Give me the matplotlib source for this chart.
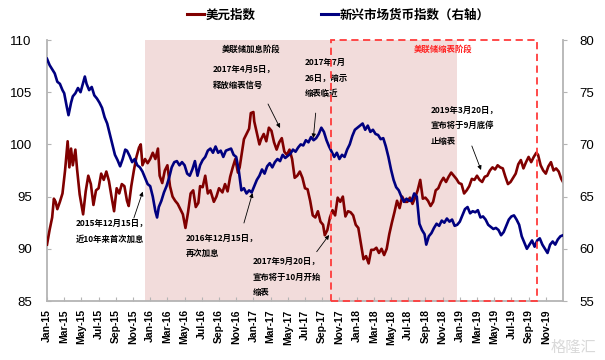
import matplotlib
matplotlib.use("Agg")
import matplotlib.pyplot as plt
from matplotlib.patches import Rectangle
from matplotlib.lines import Line2D
import matplotlib.transforms as mtransforms

plt.rcParams['font.family'] = ['Liberation Sans', 'DejaVu Sans']
CJK = ['Noto Sans CJK SC', 'DejaVu Sans']

# ---------------- data (x = months since Jan 2015) ----------------
usd_t = [0.0, 0.3, 0.6, 0.8, 1.0, 1.2, 1.5, 1.8, 2.1, 2.4, 2.6, 2.8, 3.0, 3.3, 3.5, 3.8,
         4.2, 4.5, 4.8, 5.1, 5.4, 5.7, 6.0, 6.3, 6.6, 6.9, 7.2, 7.5, 7.8, 8.1, 8.4, 8.7,
         9.0, 9.3, 9.5, 9.8, 10.1, 10.4, 10.7, 10.9, 11.1, 11.4, 11.7, 12.0, 12.3, 12.6,
         12.9, 13.1, 13.4, 13.7, 14.0, 14.3, 14.6, 14.9, 15.2, 15.5, 15.8, 16.1, 16.4,
         16.7, 17.0, 17.3, 17.6, 17.8, 18.1, 18.4, 18.7, 19.0, 19.4, 19.7, 20.0, 20.4,
         20.7, 21.0, 21.3, 21.6, 21.9, 22.2, 22.4, 22.6, 22.9, 23.2, 23.5, 23.7, 24.0,
         24.1, 24.4, 24.7, 24.9, 25.2, 25.5, 25.8, 26.1, 26.4, 26.7, 27.0, 27.3, 27.6,
         27.9, 28.2, 28.5, 28.8, 29.1, 29.4, 29.7, 30.0, 30.3, 30.6, 30.9, 31.2, 31.5,
         31.8, 32.1, 32.3, 32.6, 32.9, 33.2, 33.5, 33.8, 34.1, 34.4, 34.7, 35.0, 35.3,
         35.6, 35.9, 36.2, 36.5, 36.8, 37.1, 37.4, 37.7, 38.0, 38.3, 38.6, 38.9, 39.2,
         39.5, 39.8, 40.1, 40.4, 40.7, 41.0, 41.3, 41.6, 41.9, 42.2, 42.5, 42.8, 43.1,
         43.4, 43.7, 44.0, 44.3, 44.6, 44.9, 45.2, 45.5, 45.8, 46.1, 46.4, 46.7, 47.0,
         47.3, 47.6, 47.9, 48.2, 48.5, 48.8, 49.1, 49.4, 49.7, 50.0, 50.3, 50.6, 50.9,
         51.2, 51.5, 51.8, 52.1, 52.4, 52.7, 53.0, 53.3, 53.6, 53.9, 54.2, 54.5, 54.8,
         55.1, 55.4, 55.7, 56.0, 56.3, 56.6, 56.9, 57.1, 57.4, 57.7, 58.0, 58.3, 58.6,
         58.9, 59.2, 59.5, 59.8, 60.0]
usd_v = [90.4, 91.8, 93.0, 94.8, 94.5, 93.8, 94.5, 95.3, 97.5, 100.3, 97.8, 99.6, 98.0, 99.5, 97.6, 95.2,
         93.3, 95.5, 97.0, 96.2, 94.2, 95.6, 95.8, 97.2, 96.6, 97.4, 96.5, 95.0, 93.6, 95.8, 95.3, 96.2,
         96.0, 94.6, 94.1, 96.0, 97.5, 98.8, 99.7, 100.0, 98.0, 98.6, 98.2, 98.6, 99.2, 98.6,
         99.6, 97.0, 96.3, 97.5, 98.0, 96.0, 95.0, 94.6, 94.3, 93.8, 93.3, 92.0, 93.5,
         95.3, 95.6, 94.0, 94.4, 96.0, 95.9, 97.0, 95.3, 95.6, 94.5, 95.0, 95.8, 95.4,
         96.2, 95.5, 96.9, 97.8, 98.6, 97.3, 97.8, 98.9, 100.5, 101.0, 101.5, 103.0, 103.1,
         102.2, 101.1, 100.0, 100.5, 101.0, 100.3, 101.6, 101.3, 100.2, 99.5, 100.2, 100.6, 99.3,
         99.0, 99.5, 98.6, 96.8, 97.0, 97.4, 96.8, 95.8, 95.7, 94.6, 93.2, 93.0, 93.6,
         92.6, 92.3, 91.3, 91.8, 93.0, 93.7, 93.2, 94.9, 94.5, 95.0, 93.1, 93.6, 93.5,
         93.2, 92.3, 92.0, 90.5, 89.0, 89.3, 88.6, 89.9, 89.9, 90.1, 89.6, 90.0, 89.4,
         90.0, 91.4, 92.5, 93.5, 94.6, 93.9, 95.0, 94.5, 94.5, 94.9, 94.3, 94.9, 95.6,
         96.6, 94.8, 94.9, 94.6, 94.1, 94.5, 95.6, 95.8, 96.4, 96.8, 96.4, 96.9, 97.3,
         97.0, 96.7, 96.3, 96.2, 95.3, 95.6, 96.0, 96.7, 96.6, 97.0, 96.6, 96.4, 96.9,
         97.0, 97.5, 97.8, 97.6, 98.0, 97.8, 97.7, 96.9, 96.2, 96.4, 96.8, 97.2, 98.1,
         98.5, 97.7, 98.3, 98.8, 98.3, 98.8, 99.2, 99.0, 98.0, 97.5, 97.2, 97.9, 98.3,
         97.5, 97.7, 97.4, 96.7, 96.4]

em_t = [0.0, 0.3, 0.6, 0.9, 1.2, 1.5, 1.8, 2.0, 2.3, 2.5, 2.8, 3.0, 3.3, 3.6, 3.9, 4.1,
        4.4, 4.6, 4.9, 5.2, 5.5, 5.8, 6.1, 6.4, 6.7, 7.0, 7.3, 7.6, 7.9, 8.2, 8.5, 8.8,
        9.1, 9.3, 9.6, 9.9, 10.2, 10.5, 10.8, 11.1, 11.4, 11.7, 12.0, 12.3, 12.6, 12.8,
        13.0, 13.3, 13.6, 13.9, 14.2, 14.5, 14.8, 15.1, 15.4, 15.7, 16.0, 16.3, 16.6,
        16.9, 17.2, 17.5, 17.8, 18.1, 18.4, 18.7, 19.0, 19.3, 19.6, 19.9, 20.2, 20.5,
        20.8, 21.1, 21.4, 21.7, 22.0, 22.3, 22.6, 22.9, 23.2, 23.5, 23.8, 24.1, 24.4,
        24.7, 25.0, 25.3, 25.6, 25.9, 26.2, 26.5, 26.8, 27.1, 27.4, 27.7, 28.0, 28.3,
        28.6, 28.9, 29.2, 29.5, 29.8, 30.1, 30.4, 30.7, 31.0, 31.3, 31.6, 31.9, 32.2,
        32.5, 32.8, 33.1, 33.4, 33.7, 34.0, 34.3, 34.6, 34.9, 35.2, 35.5, 35.8, 36.1,
        36.4, 36.7, 37.0, 37.3, 37.6, 37.9, 38.2, 38.5, 38.8, 39.1, 39.4, 39.7, 40.0,
        40.3, 40.6, 40.9, 41.2, 41.5, 41.8, 42.1, 42.4, 42.7, 43.0, 43.3, 43.6, 43.9,
        44.1, 44.4, 44.7, 45.0, 45.3, 45.6, 45.9, 46.2, 46.5, 46.8, 47.1, 47.4, 47.7,
        48.0, 48.3, 48.6, 48.9, 49.2, 49.5, 49.8, 50.1, 50.4, 50.7, 51.0, 51.3, 51.6,
        51.9, 52.2, 52.5, 52.8, 53.1, 53.4, 53.7, 54.0, 54.3, 54.6, 54.9, 55.2, 55.5,
        55.8, 56.1, 56.4, 56.7, 57.0, 57.3, 57.6, 57.9, 58.2, 58.5, 58.8, 59.1, 59.4,
        59.7, 60.0]
em_v = [78.2, 77.6, 77.2, 76.8, 76.0, 75.8, 75.2, 74.9, 73.6, 72.8, 74.0, 74.6, 74.9, 75.4, 75.0, 75.6,
        76.5, 75.8, 75.2, 75.5, 74.7, 74.4, 74.0, 73.5, 72.6, 72.0, 71.0, 70.0, 69.0, 68.5, 67.9, 68.6,
        69.5, 69.4, 68.9, 68.3, 68.6, 68.0, 67.8, 67.4, 66.8, 66.2, 66.0, 65.0, 63.6, 63.0,
        64.0, 64.6, 65.4, 66.0, 66.8, 67.8, 68.3, 68.4, 68.0, 68.3, 68.0, 67.2, 67.0,
        67.6, 68.4, 67.0, 68.0, 68.5, 68.8, 69.4, 69.6, 69.2, 69.8, 69.2, 69.4, 68.8,
        69.4, 69.5, 69.6, 69.0, 68.8, 67.5, 65.6, 65.8, 65.3, 65.6, 65.4, 66.0, 66.6,
        67.0, 67.6, 67.2, 67.9, 68.2, 67.8, 68.3, 68.6, 68.4, 69.0, 68.7, 68.9, 69.1,
        69.5, 69.3, 69.7, 70.0, 69.9, 70.4, 70.2, 70.7, 70.4, 70.6, 71.0, 71.6, 71.2,
        70.4, 69.8, 69.3, 68.8, 69.2, 68.6, 69.0, 68.8, 69.5, 70.0, 70.8, 71.4, 71.6,
        71.8, 72.0, 71.4, 71.8, 71.2, 71.4, 71.0, 70.9, 70.5, 70.6, 69.8, 68.8, 67.6,
        66.6, 65.9, 65.6, 65.0, 64.5, 64.8, 64.6, 64.6, 65.3, 65.0, 62.4, 61.8, 61.4,
        60.4, 61.2, 61.5, 62.0, 62.4, 62.2, 62.7, 62.5, 62.9, 62.6, 62.8, 62.2, 62.3,
        62.6, 63.2, 63.8, 64.0, 63.4, 63.6, 63.5, 63.7, 63.0, 63.1, 62.8, 62.3, 62.1,
        61.9, 62.0, 61.8, 61.3, 61.6, 62.2, 62.8, 63.1, 63.2, 62.8, 62.3, 61.2, 60.6,
        60.0, 60.4, 60.8, 60.2, 60.8, 61.0, 60.4, 60.0, 59.6, 60.4, 60.7, 60.4, 60.9,
        61.2, 61.3]

month_ticks = list(range(0, 60, 2))
tick_labels = ['Jan-15', 'Mar-15', 'May-15', 'Jul-15', 'Sep-15', 'Nov-15',
               'Jan-16', 'Mar-16', 'May-16', 'Jul-16', 'Sep-16', 'Nov-16',
               'Jan-17', 'Mar-17', 'May-17', 'Jul-17', 'Sep-17', 'Nov-17',
               'Jan-18', 'Mar-18', 'May-18', 'Jul-18', 'Sep-18', 'Nov-18',
               'Jan-19', 'Mar-19', 'May-19', 'Jul-19', 'Sep-19', 'Nov-19']

hike_phase = (11.4, 47.67)     # 美联储加息阶段 shading (months)
taper_phase = (33.0, 57.0)     # 美联储缩表阶段 dashed box (months)

RED = '#800000'
BLUE = '#000080'
GRAY = '#b4b4b4'

fig = plt.figure(figsize=(6.05, 3.6), dpi=100)
ax = fig.add_axes([47/605, 59/360, 516/605, 261/360])
ax2 = ax.twinx()

ax.axvspan(hike_phase[0], hike_phase[1], color='#f2dcdb', lw=0, zorder=0)
ax.plot(usd_t, usd_v, color=RED, lw=1.9, zorder=3)
ax2.plot(em_t, em_v, color=BLUE, lw=1.9, zorder=3)

tr = mtransforms.blended_transform_factory(ax2.transData, ax2.transAxes)
ax2.add_patch(Rectangle((taper_phase[0], 0.0), taper_phase[1] - taper_phase[0], 1.0,
                        transform=tr, fill=False, ec='#ff3b3b', lw=1.3,
                        ls=(0, (4, 2.5)), zorder=5, clip_on=False))

ax.set_xlim(0, 60)
ax.set_ylim(85, 110)
ax2.set_ylim(55, 80)
ax.set_yticks([85, 90, 95, 100, 105, 110])
ax2.set_yticks([55, 60, 65, 70, 75, 80])
ax.set_xticks(month_ticks)
ax.set_xticklabels(tick_labels, rotation=90, fontsize=7.5, fontweight='bold')

for a in (ax, ax2):
    a.spines['top'].set_visible(False)
    for s in a.spines.values():
        s.set_color(GRAY)
        s.set_linewidth(1.3)
ax.spines['right'].set_visible(False)
ax2.spines['left'].set_visible(False)
ax2.spines['bottom'].set_visible(False)

ax.tick_params(axis='y', direction='in', length=3, color=GRAY, labelsize=9.5, pad=11)
ax.tick_params(axis='x', direction='in', length=3, color=GRAY, pad=6)
ax2.tick_params(axis='y', direction='out', length=3, color=GRAY, labelsize=9.5, pad=9)

# legend
handles = [Line2D([], [], color=RED, lw=2.2), Line2D([], [], color=BLUE, lw=2.2)]
fig.legend(handles, ['美元指数', '新兴市场货币指数（右轴）'], loc='center',
           bbox_to_anchor=(338/605, 1 - 15/360), ncol=2, frameon=False,
           handlelength=1.4, handletextpad=0.1, columnspacing=5.2,
           prop={'family': CJK, 'size': 9, 'weight': 'bold'})

# annotations
tk = dict(family=CJK, fontsize=6.0, fontweight='bold', color='black', zorder=10,
          linespacing=1.95)
ax.text(23.7, 109.1, '美联储加息阶段', ha='center', va='center', **tk)
ax.text(46.05, 109.1, '美联储缩表阶段', ha='center', va='center',
        **{**tk, 'color': '#ff2020'})
ax.text(19.3, 106.4, '2017年4月5日，\n释放缩表信号', ha='left', va='center', **tk)
ax.text(30.0, 106.35, '2017年7月\n26日，暗示\n缩表临近', ha='left', va='center', **tk)
ax.text(44.65, 101.8, '2019年3月20日，\n宣布将于9月底停\n止缩表', ha='left', va='center', **tk)
ax.text(3.37, 91.7, '2015年12月15日，\n近10年来首次加息', ha='left', va='center', **tk)
ax.text(16.16, 90.3, '2016年12月15日，\n再次加息', ha='left', va='center', **tk)
ax.text(23.95, 87.3, '2017年9月20日，\n宣布将于10月开始\n缩表', ha='left', va='center', **tk)

ap = dict(arrowstyle='-|>', lw=0.6, color='black', mutation_scale=6,
          shrinkA=0, shrinkB=0)
arrows = [((25.7, 103.87), (27.1, 101.57)),
          ((31.24, 103.0), (30.97, 100.6)),
          ((49.4, 99.85), (50.47, 97.55)),
          ((10.1, 92.95), (11.13, 95.47)),
          ((22.9, 92.47), (23.9, 95.34)),
          ((31.36, 89.72), (32.8, 91.32))]
for start, end in arrows:
    ax.annotate('', xy=end, xytext=start, arrowprops=ap, zorder=10)

fig.text(0.985, 0.035, '格隆汇', ha='right', va='center', fontsize=11,
         family=CJK, color='#d0d0d0', alpha=0.8)

fig.savefig('out.png', dpi=100)
